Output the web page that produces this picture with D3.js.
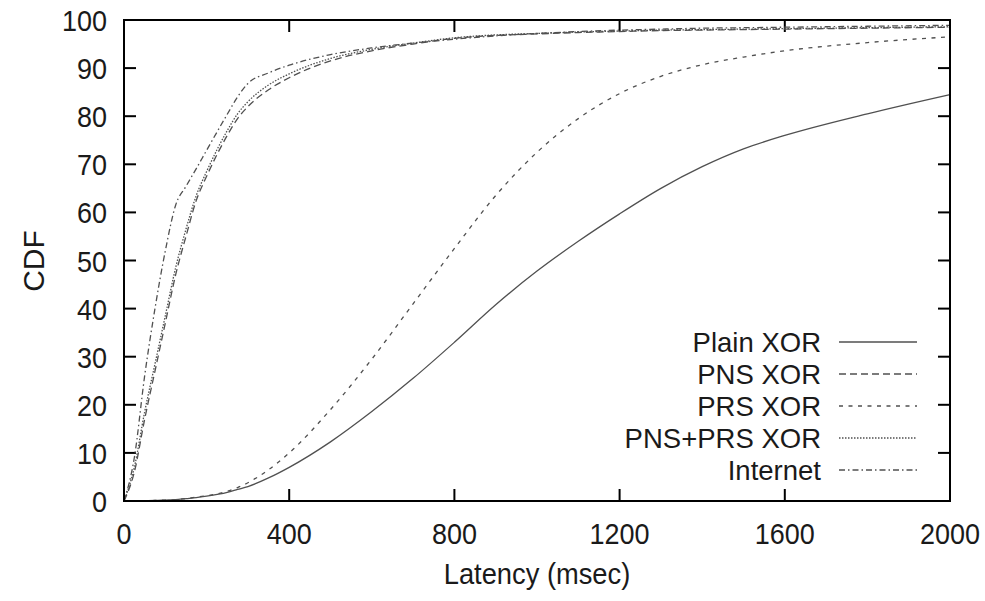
<!DOCTYPE html>
<html>
<head>
<meta charset="utf-8">
<script src="https://cdn.jsdelivr.net/npm/d3@7"></script>
<style>
  html, body { margin: 0; padding: 0; background: #fff; }
  svg text { font-family: "Liberation Sans", Arial, Helvetica, sans-serif; fill: #1a1a1a; }
</style>
</head>
<body>
<svg id="chart" width="985" height="601"></svg>
<script>
// ---- data ----
const latency = [0, 25, 50, 75, 100, 125, 150, 175, 200, 250, 275, 300, 350, 400, 500, 600, 700, 800, 900, 1000, 1100, 1200, 1300, 1400, 1500, 1600, 1800, 2000];

const plainXOR  = [0, 0, 0.05, 0.1, 0.2, 0.3, 0.5, 0.7, 1.0, 1.8, 2.4, 3.0, 4.8, 7.0, 12.3, 18.6, 25.5, 33.0, 40.8, 47.8, 54.0, 59.7, 65.0, 69.5, 73.2, 76.0, 80.5, 84.5];
const pnsXOR    = [0, 6, 17, 27, 37, 47, 55, 62.5, 67.5, 76, 79.5, 82, 85.5, 88, 91.5, 93.6, 95.0, 96.2, 96.8, 97.1, 97.4, 97.6, 97.8, 97.9, 98.0, 98.1, 98.3, 98.5];
const prsXOR    = [0, 0, 0.05, 0.1, 0.2, 0.3, 0.5, 0.8, 1.1, 2.0, 2.8, 3.8, 6.5, 10.0, 19.0, 29.5, 41.0, 52.5, 63.5, 72.5, 79.5, 84.7, 88.3, 90.7, 92.3, 93.6, 95.3, 96.5];
const pnsPrsXOR = [0, 7, 18.5, 28.5, 38.5, 48.5, 56.5, 63.5, 68.5, 77, 80.5, 83, 86.5, 88.8, 92, 93.9, 95.2, 96.3, 96.9, 97.2, 97.5, 97.7, 97.9, 98.0, 98.1, 98.2, 98.4, 98.6];
const internet  = [0, 9, 26, 40, 52, 61.5, 65.4, 69.1, 72.9, 80.4, 84, 86.8, 89.0, 90.6, 92.8, 94.2, 95.2, 96.0, 96.7, 97.2, 97.6, 97.9, 98.1, 98.3, 98.4, 98.5, 98.7, 98.9];

const seriesNames = ["Plain XOR", "PNS XOR", "PRS XOR", "PNS+PRS XOR", "Internet"];
const seriesValues = [plainXOR, pnsXOR, prsXOR, pnsPrsXOR, internet];
const xTicks = [0, 400, 800, 1200, 1600, 2000];
const yTicks = [0, 10, 20, 30, 40, 50, 60, 70, 80, 90, 100];

// ---- styles ----
const dashes = ["none", "7,4", "4,5.5", "1.5,1.5", "6,3,1.5,3"];
const lineColor = "#505050";

const svg = d3.select("#chart");
const m = { left: 124, right: 950, top: 20, bottom: 501 };

const x = d3.scaleLinear().domain([0, 2000]).range([m.left, m.right]);
const y = d3.scaleLinear().domain([0, 100]).range([m.bottom, m.top]);

// text helper: horizontally condensed text like the original
function label(px, py, str, anchor, size, sx) {
  return svg.append("text")
    .attr("transform", `translate(${px},${py}) scale(${sx},1)`)
    .attr("text-anchor", anchor)
    .attr("font-size", size)
    .text(str);
}

const tickLen = 12;
const g = svg.append("g");
xTicks.forEach(t => {
  g.append("line").attr("x1", x(t)).attr("x2", x(t)).attr("y1", m.bottom).attr("y2", m.bottom - tickLen)
    .attr("stroke", "#000").attr("stroke-width", 2);
  g.append("line").attr("x1", x(t)).attr("x2", x(t)).attr("y1", m.top).attr("y2", m.top + tickLen)
    .attr("stroke", "#000").attr("stroke-width", 2);
  label(x(t), 544, t, "middle", 30, 0.9);
});
yTicks.forEach(t => {
  g.append("line").attr("x1", m.left).attr("x2", m.left + tickLen).attr("y1", y(t)).attr("y2", y(t))
    .attr("stroke", "#000").attr("stroke-width", 2);
  g.append("line").attr("x1", m.right).attr("x2", m.right - tickLen).attr("y1", y(t)).attr("y2", y(t))
    .attr("stroke", "#000").attr("stroke-width", 2);
  label(107, y(t) + 11, t, "end", 30, 0.9);
});

// data lines
const line = d3.line().x((d, i) => x(latency[i])).y(d => y(d)).curve(d3.curveMonotoneX);
seriesValues.forEach((vals, k) => {
  svg.append("path").datum(vals).attr("d", line)
    .attr("fill", "none").attr("stroke", lineColor).attr("stroke-width", 1.3)
    .attr("stroke-dasharray", dashes[k]);
});

// frame
svg.append("rect").attr("x", m.left).attr("y", m.top)
  .attr("width", m.right - m.left).attr("height", m.bottom - m.top)
  .attr("fill", "none").attr("stroke", "#000").attr("stroke-width", 2);

// axis titles
label((m.left + m.right) / 2, 584, "Latency (msec)", "middle", 30, 0.91);
svg.append("text").attr("transform", "translate(44,261) rotate(-90)").attr("text-anchor", "middle")
  .attr("font-size", 30).text("CDF");

// legend
const legY0 = 342, legDy = 32;
seriesNames.forEach((name, k) => {
  const yy = legY0 + k * legDy;
  label(821, yy + 10, name, "end", 27.5, 1.0);
  svg.append("line").attr("x1", 839).attr("x2", 917).attr("y1", yy).attr("y2", yy)
    .attr("stroke", lineColor).attr("stroke-width", 1.3).attr("stroke-dasharray", dashes[k]);
});
</script>
</body>
</html>
